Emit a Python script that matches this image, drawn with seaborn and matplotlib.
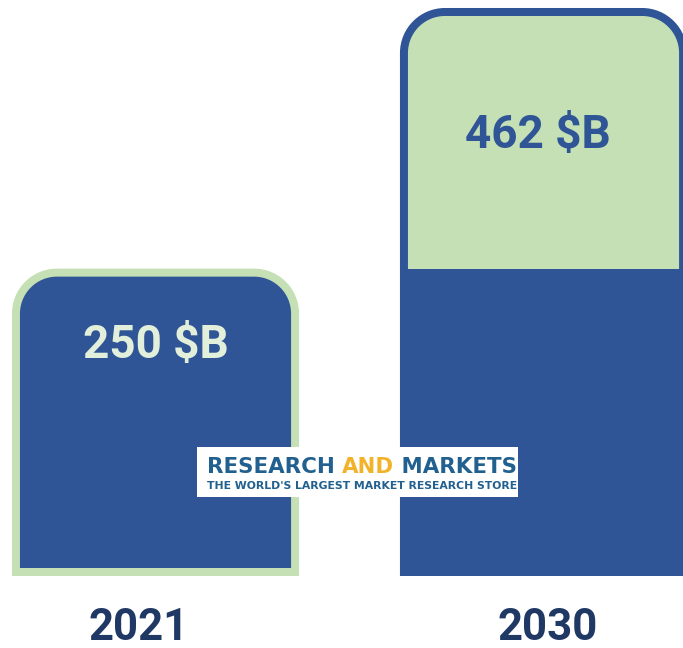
import matplotlib
matplotlib.use("Agg")
import matplotlib.pyplot as plt
import seaborn as sns
import pandas as pd
from matplotlib.path import Path
from matplotlib.patches import PathPatch, Rectangle
from matplotlib.text import Annotation

# ---- data ----
years = ["2021", "2030"]
values = [250, 462]
value_labels = ["250 $B", "462 $B"]

BLUE = "#2f5597"
GREEN = "#c5e0b4"
NAVY = "#203864"
LIGHT_TXT = "#e2efda"
LOGO_BLUE = "#22608f"
LOGO_GOLD = "#f2b32b"

sns.set_theme(style="white")
plt.rcParams['font.family'] = ['Roboto', 'DejaVu Sans']

W, H, DPI = 683, 648, 100
fig = plt.figure(figsize=(W / DPI, H / DPI), dpi=DPI)
ax = fig.add_axes([0, 0, 1, 1])

df = pd.DataFrame({"year": years, "value": values})
sns.barplot(data=df, x="year", y="value", ax=ax, width=0.74,
            color=BLUE, saturation=1)

ax.set_xlim(-0.4008, 1.3595)
ax.set_ylim(-58.56, 468.5)
ax.axis("off")

# pixel -> data conversions
px_x = (1.3595 + 0.4008) / W
px_y = (468.5 + 58.56) / H


def rounded_top(x0, x1, y0, y1, rx, ry):
    k = 0.5523
    verts = [(x0, y0), (x0, y1 - ry),
             (x0, y1 - ry + k * ry), (x0 + rx - k * rx, y1), (x0 + rx, y1),
             (x1 - rx, y1),
             (x1 - rx + k * rx, y1), (x1, y1 - ry + k * ry), (x1, y1 - ry),
             (x1, y0), (x0, y0)]
    codes = [Path.MOVETO, Path.LINETO,
             Path.CURVE4, Path.CURVE4, Path.CURVE4,
             Path.LINETO,
             Path.CURVE4, Path.CURVE4, Path.CURVE4,
             Path.LINETO, Path.CLOSEPOLY]
    return Path(verts, codes)


lw_px = 8
half_x = lw_px / 2 * px_x
half_y = lw_px / 2 * px_y
rx = 41 * px_x
ry = 41 * px_y

bars = list(ax.patches)
geo = []
for b in bars:
    geo.append((b.get_x(), b.get_x() + b.get_width(), b.get_y(), b.get_y() + b.get_height()))
    b.set_visible(False)

# 2021 bar: blue fill, green border
x0, x1, y0, y1 = geo[0]
p = rounded_top(x0 + half_x, x1 - half_x, y0 + half_y, y1 - half_y, rx, ry)
ax.add_patch(PathPatch(p, facecolor=BLUE, edgecolor=GREEN, lw=lw_px * 0.72,
                       joinstyle="miter", zorder=3))

# 2030 bar: green top with blue border, blue base equal to 2021 value
x0, x1, y0, y1 = geo[1]
p = rounded_top(x0 + half_x, x1 - half_x, y0 + half_y, y1 - half_y, rx, ry)
ax.add_patch(PathPatch(p, facecolor=GREEN, edgecolor=BLUE, lw=lw_px * 0.72,
                       joinstyle="miter", zorder=3))
ax.add_patch(Rectangle((x0, y0), x1 - x0, values[0], facecolor=BLUE,
                       edgecolor="none", zorder=4))

# value labels
label_colors = [LIGHT_TXT, BLUE]
label_offsets = [(0, -76), (-6, -127)]  # pixels
for i, (g, lab) in enumerate(zip(geo, value_labels)):
    cx = (g[0] + g[1]) / 2
    ax.annotate(lab, xy=(cx, g[3]), xytext=(label_offsets[i][0] * 0.72, label_offsets[i][1] * 0.72),
                textcoords="offset points", ha="center", va="center",
                fontsize=33, fontweight="bold", color=label_colors[i], zorder=6)

# year labels
year_offsets = [(-17, -52), (4, -52)]
for i, (g, yr) in enumerate(zip(geo, years)):
    cx = (g[0] + g[1]) / 2
    ax.annotate(yr, xy=(cx, 0), xytext=(year_offsets[i][0] * 0.72, year_offsets[i][1] * 0.72),
                textcoords="offset points", ha="center", va="center",
                fontsize=31.5, fontweight="bold", color=NAVY, zorder=6)

# logo watermark
LOGO_FONT = ['DejaVu Sans']
fig.patches.append(Rectangle((197 / W, 1 - 497 / H), (518 - 197) / W, 50 / H,
                             transform=fig.transFigure, facecolor="white",
                             edgecolor="none", zorder=10))
t1 = fig.text(207 / W, 1 - 473 / H, "RESEARCH ", fontsize=15.4, fontweight="bold",
              family=LOGO_FONT, color=LOGO_BLUE, zorder=11, va="baseline")
t2 = Annotation("AND", xy=(1, 0), xycoords=t1, fontsize=15.4, fontweight="bold",
                family=LOGO_FONT, color=LOGO_GOLD, va="bottom",
                annotation_clip=False, zorder=11)
fig.add_artist(t2)
t3 = Annotation(" MARKETS", xy=(1, 0), xycoords=t2, fontsize=15.4, fontweight="bold",
                family=LOGO_FONT, color=LOGO_BLUE, va="bottom",
                annotation_clip=False, zorder=11)
fig.add_artist(t3)
fig.text(207 / W, 1 - 489 / H, "THE WORLD'S LARGEST MARKET RESEARCH STORE",
         fontsize=7.8, fontweight="bold", family=LOGO_FONT, color=LOGO_BLUE,
         zorder=11, va="baseline")

fig.savefig("out.png", dpi=DPI)
